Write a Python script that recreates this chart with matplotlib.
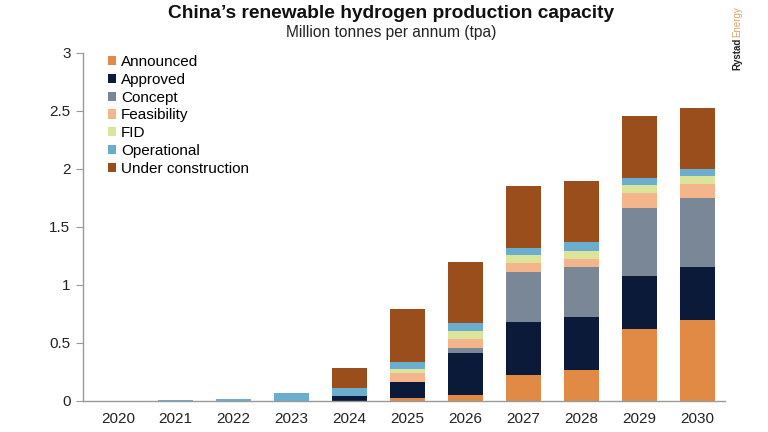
import matplotlib
matplotlib.use("Agg")
import matplotlib.pyplot as plt
import numpy as np

plt.rcParams['font.family'] = ['Liberation Sans', 'DejaVu Sans']

years = ["2020", "2021", "2022", "2023", "2024", "2025", "2026", "2027", "2028", "2029", "2030"]
announced = [0, 0, 0, 0, 0, 0.024, 0.045, 0.222, 0.265, 0.616, 0.695]
approved = [0, 0, 0, 0, 0.040, 0.138, 0.363, 0.458, 0.457, 0.457, 0.455]
concept = [0, 0, 0, 0, 0, 0, 0.045, 0.430, 0.425, 0.590, 0.593]
feasibility = [0, 0, 0, 0, 0, 0.073, 0.078, 0.075, 0.075, 0.123, 0.127]
fid = [0, 0, 0, 0, 0, 0.035, 0.069, 0.069, 0.069, 0.069, 0.066]
operational = [0, 0.005, 0.015, 0.062, 0.067, 0.065, 0.067, 0.063, 0.072, 0.066, 0.063]
under_construction = [0, 0, 0, 0, 0.176, 0.455, 0.529, 0.536, 0.527, 0.529, 0.526]

series = [
    ("Announced", announced, "#E08A45"),
    ("Approved", approved, "#0B1A38"),
    ("Concept", concept, "#7A8797"),
    ("Feasibility", feasibility, "#F4B48C"),
    ("FID", fid, "#DCE49A"),
    ("Operational", operational, "#6AADCF"),
    ("Under construction", under_construction, "#9A4E1C"),
]

fig = plt.figure(figsize=(7.68, 4.32), dpi=100)
ax = fig.add_axes([83/768, 1 - 400.5/432, (725-83)/768, (400.5-52.5)/432])

x = np.arange(len(years))
bottom = np.zeros(len(years))
for name, vals, col in series:
    v = np.array(vals)
    ax.bar(x, v, width=0.6, bottom=bottom, color=col, label=name, linewidth=0)
    bottom += v

ax.set_xlim(-0.6, 10.48)
ax.set_ylim(0, 3)
ax.set_xticks(x)
ax.set_xticklabels(years, fontsize=11, color="#222222")
ax.set_yticks([0, 0.5, 1, 1.5, 2, 2.5, 3])
ax.set_yticklabels(["0", "0.5", "1", "1.5", "2", "2.5", "3"], fontsize=11, color="#222222")
ax.tick_params(axis='x', length=0, pad=8)
ax.tick_params(axis='y', length=5, color="#999999", pad=4)
for s in ["top", "right"]:
    ax.spines[s].set_visible(False)
for s in ["left", "bottom"]:
    ax.spines[s].set_color("#999999")
    ax.spines[s].set_linewidth(1)

leg = ax.legend(loc="upper left", bbox_to_anchor=((108 - 83) / 642, 1.0 - 2.5 / 348), frameon=False, fontsize=11,
                handlelength=0.55, handleheight=0.55, handletextpad=0.3, labelspacing=0.25,
                borderaxespad=0, borderpad=0)

fig.text(391/768, 1 - 14/432, "China\u2019s renewable hydrogen production capacity", ha="center", va="center",
         fontsize=13.8, fontweight="bold", color="#111111")
fig.text(391/768, 1 - 32/432, "Million tonnes per annum (tpa)", ha="center", va="center",
         fontsize=11.2, color="#222222")

t1 = fig.text(737/768, 1 - 70/432, "Rystad", rotation=90, ha="center", va="bottom", fontsize=7,
              fontweight="bold", color="#222222")
fig.canvas.draw()
bb = t1.get_window_extent(fig.canvas.get_renderer())
fig.text(737/768, (bb.y1 + 0.5) / fig.bbox.height, "Energy", rotation=90, ha="center", va="bottom",
         fontsize=7, color="#D9A36A")

fig.savefig("out.png", dpi=100)
